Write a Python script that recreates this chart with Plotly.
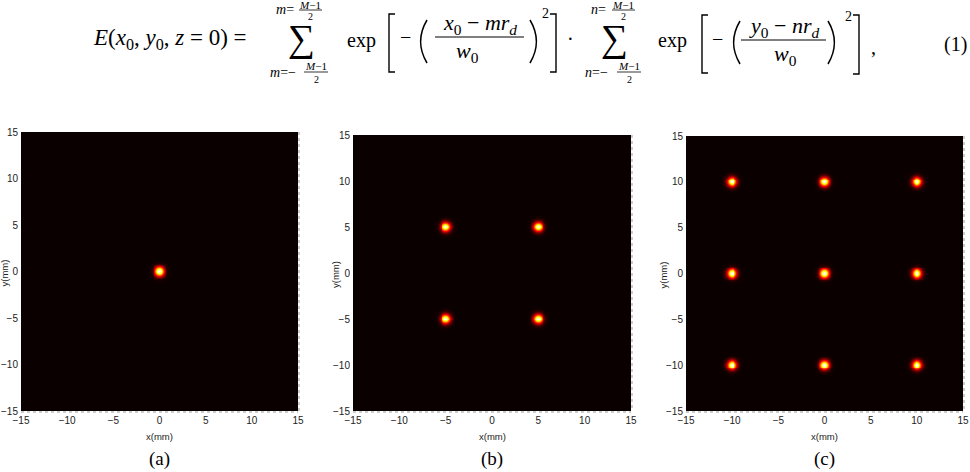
import numpy as np
import plotly.graph_objects as go

W, H = 970, 472

# ---------------- data ----------------
axis_range = [-15, 15]
tick_vals = [-15, -10, -5, 0, 5, 10, 15]
waist_mm = 0.7                      # beam waist w0 (mm)
spot_x_a = [0]
spot_y_a = [0]
spot_x_b = [-5, 5]
spot_y_b = [-5, 5]
spot_x_c = [-10, 0, 10]
spot_y_c = [-10, 0, 10]
panel_labels = ["(a)", "(b)", "(c)"]
grid = np.linspace(-15, 15, 301)


def field(xs, ys):
    gx = sum(np.exp(-((grid - m) / waist_mm) ** 2) for m in xs)
    gy = sum(np.exp(-((grid - n) / waist_mm) ** 2) for n in ys)
    e = np.outer(gy, gx)
    inten = e ** 2
    return inten / inten.max()


hot = [[0.0, "rgb(11,0,0)"], [0.365, "rgb(255,0,0)"],
       [0.75, "rgb(255,255,0)"], [1.0, "rgb(255,255,255)"]]

# panel boxes in pixels (left, right, top, bottom)
boxes = [(21, 298, 132, 411), (353, 631, 135, 411), (686, 963, 136, 411)]
spots = [(spot_x_a, spot_y_a), (spot_x_b, spot_y_b), (spot_x_c, spot_y_c)]
ylabel_x = [4, 335, 663]

fig = go.Figure()
annotations = []
shapes = []
SANS = "Liberation Sans"
SERIF = "Liberation Serif"


def px(x):
    return x / W


def py(y):
    return 1 - y / H


def txt(x, y, s, size=20, family=SERIF, angle=0, color="black"):
    annotations.append(dict(x=px(x), y=py(y), xref="paper", yref="paper",
                            text=s, showarrow=False, textangle=angle,
                            font=dict(size=size, family=family, color=color),
                            xanchor="center", yanchor="middle"))


def line(x0, y0, x1, y1, w=1.2, color="black", dash=None):
    ln = dict(color=color, width=w)
    if dash:
        ln["dash"] = dash
    shapes.append(dict(type="line", xref="paper", yref="paper",
                       x0=px(x0), y0=py(y0), x1=px(x1), y1=py(y1), line=ln))


def path(d_pts, w=1.4):
    d = "M " + " L ".join(f"{px(a):.5f},{py(b):.5f}" for a, b in d_pts)
    shapes.append(dict(type="path", xref="paper", yref="paper", path=d,
                       line=dict(color="black", width=w)))


def paren(x0, x1, y0, y1, left=True, w=1.5):
    ym = (y0 + y1) / 2
    if left:
        a, c = x1, x0 - (x1 - x0) * 0.6
    else:
        a, c = x0, x1 + (x1 - x0) * 0.6
    d = (f"M {px(a):.5f},{py(y0):.5f} Q {px(c):.5f},{py(ym):.5f} "
         f"{px(a):.5f},{py(y1):.5f}")
    shapes.append(dict(type="path", xref="paper", yref="paper", path=d,
                       line=dict(color="black", width=w)))


for i, (box, (sx, sy)) in enumerate(zip(boxes, spots)):
    l, r, t, b = box
    k = "" if i == 0 else str(i + 1)
    fig.add_trace(go.Heatmap(x=grid, y=grid, z=field(sx, sy), colorscale=hot,
                             zmin=0, zmax=1, showscale=False,
                             xaxis="x" + k, yaxis="y" + k, hoverinfo="skip"))
    common = dict(range=axis_range, tickvals=tick_vals, showgrid=False,
                  zeroline=False, ticks="", showline=False, automargin=False,
                  tickfont=dict(family=SANS, size=10, color="#222"))
    fig.update_layout(**{
        "xaxis" + k: dict(domain=[px(l), px(r)], anchor="y" + k,
                          ticklabelstandoff=2, **common),
        "yaxis" + k: dict(domain=[py(b), py(t)], anchor="x" + k,
                          ticklabelstandoff=2, **common),
    })
    # dotted pixel edges along bottom and right border
    line(l, b + 1, r, b + 1, w=1, color="#9a9a9a", dash="dot")
    line(r + 1, t, r + 1, b, w=1, color="#9a9a9a", dash="dot")
    cx = (l + r) / 2
    txt(cx, 436, "x(mm)", size=9.5, family=SANS, color="#222")
    txt(ylabel_x[i], (t + b) / 2 + 2, "y(mm)", size=9.5, family=SANS,
        angle=-90, color="#222")
    txt(cx, 459, panel_labels[i], size=19)

# ---------------- equation ----------------
txt(170, 39, "<i>E</i>(<i>x</i><sub>0</sub>, <i>y</i><sub>0</sub>, <i>z</i> = 0) =",
    size=23)
for s_off, idx in ((0, "m"), (313, "n")):
    txt(301 + s_off, 38, "∑", size=38)
    # upper limit
    txt(285 + s_off, 10, f"<i>{idx}</i>=", size=14)
    txt(310 + s_off, 5, "<i>M</i>−1", size=11)
    line(299 + s_off, 10, 322 + s_off, 10, w=0.8)
    txt(310 + s_off, 16, "2", size=10)
    # lower limit
    txt(283 + s_off, 72, f"<i>{idx}</i>=−", size=14)
    txt(316 + s_off, 66, "<i>M</i>−1", size=11)
    line(304 + s_off, 72, 328 + s_off, 72, w=0.8)
    txt(316 + s_off, 79, "2", size=10)

# first exponential
txt(361, 40, "exp")
path([(395, 14), (389, 14), (389, 72), (395, 72)])
txt(405, 37, "−")
paren(419, 427, 20, 63, left=True)
txt(480, 24, "<i>x</i><sub>0</sub> − <i>mr</i><sub><i>d</i></sub>", size=22)
line(435, 37, 524, 37, w=1)
txt(467, 52, "<i>w</i><sub>0</sub>", size=22)
paren(530, 538, 20, 63, left=False)
txt(545, 13, "2", size=14)
path([(550, 14), (556, 14), (556, 72), (550, 72)])
txt(570, 39, "·")

# second exponential
txt(672, 41, "exp")
path([(708, 15), (702, 15), (702, 73), (708, 73)])
txt(717, 39, "−")
paren(732, 740, 21, 64, left=True)
txt(784, 27, "<i>y</i><sub>0</sub> − <i>nr</i><sub><i>d</i></sub>", size=22)
line(741, 40, 826, 40, w=1)
txt(785, 55, "<i>w</i><sub>0</sub>", size=22)
paren(828, 836, 21, 64, left=False)
txt(848, 16, "2", size=14)
path([(853, 15), (859, 15), (859, 74), (853, 74)])
txt(873, 47, ",")
txt(955, 45, "(1)")

fig.update_layout(width=W, height=H, margin=dict(l=0, r=0, t=0, b=0),
                  paper_bgcolor="white", plot_bgcolor="white",
                  showlegend=False, annotations=annotations, shapes=shapes)
fig.write_html("out.html")
